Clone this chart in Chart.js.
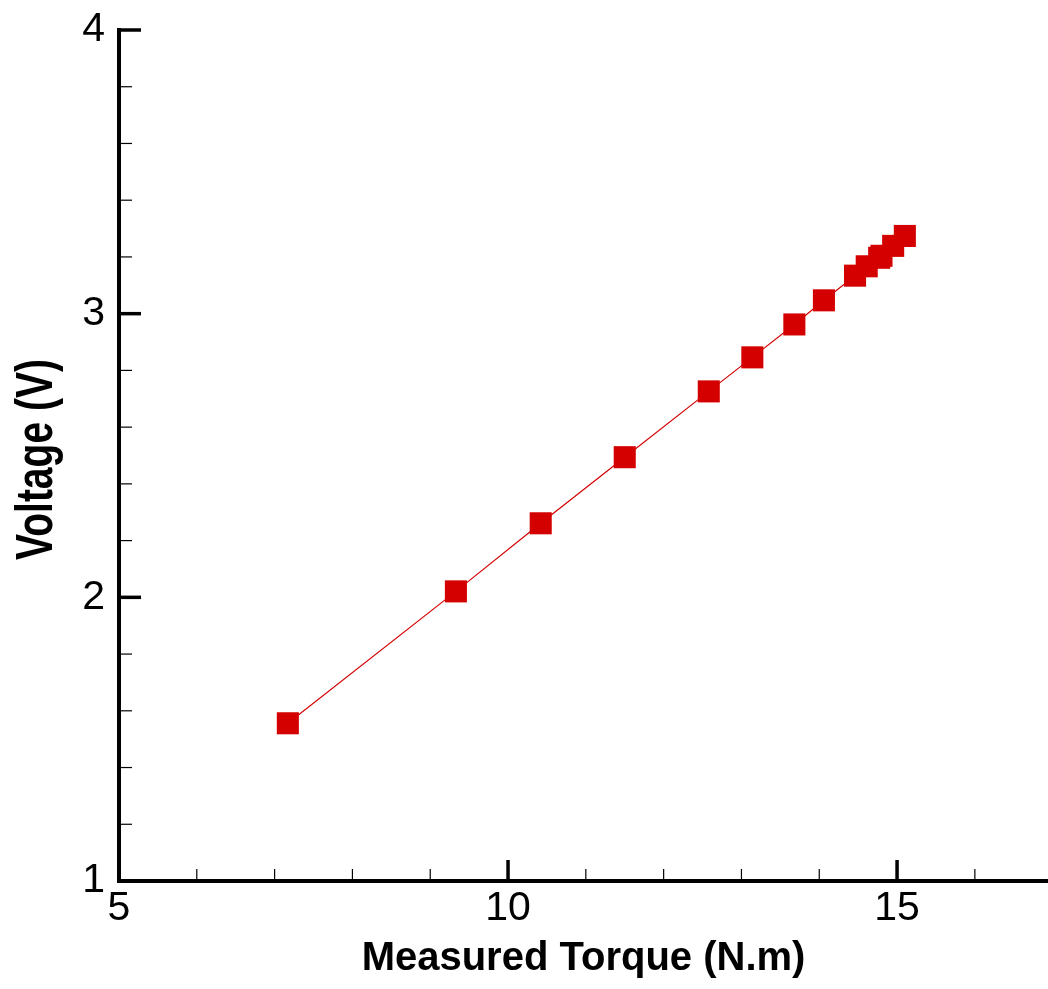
<!DOCTYPE html>
<html>
<head>
<meta charset="utf-8">
<script src="https://cdn.jsdelivr.net/npm/chart.js@4.4.0/dist/chart.umd.min.js"></script>
<style>
  html, body { margin: 0; padding: 0; background: #ffffff; overflow: hidden; }
  #wrap { position: relative; width: 1048px; height: 989px; overflow: hidden; }
  canvas { display: block; }
</style>
</head>
<body>
<div id="wrap"><canvas id="c" width="1048" height="989"></canvas></div>
<script>
// ---- Data ----
const torque  = [7.17, 9.33, 10.42, 11.50, 12.58, 13.14, 13.68, 14.06, 14.46, 14.61, 14.77, 14.80, 14.95, 15.10];
const voltage = [1.556, 2.021, 2.261, 2.494, 2.726, 2.846, 2.962, 3.047, 3.134, 3.167, 3.197, 3.204, 3.239, 3.274];

const xMajorTicks = [5, 10, 15];
const xMinorTicks = [6, 7, 8, 9, 11, 12, 13, 14, 16];
const yMajorTicks = [1, 2, 3, 4];
const yMinorTicks = [1.2, 1.4, 1.6, 1.8, 2.2, 2.4, 2.6, 2.8, 3.2, 3.4, 3.6, 3.8];

const xTitle = 'Measured Torque (N.m)';
const yTitle = 'Voltage (V)';

const FONT = "'Liberation Sans', Arial, Helvetica, sans-serif";
const RED = '#d40000';

const points = torque.map((t, i) => ({ x: t, y: voltage[i] }));

// Inward tick marks and stretched y title
const axisDecor = {
  id: 'axisDecor',
  afterDraw(chart) {
    const ctx = chart.ctx;
    const xs = chart.scales.x, ys = chart.scales.y;
    const area = chart.chartArea;
    ctx.save();
    ctx.strokeStyle = '#000';
    const drawY = (vals, len, lw) => {
      ctx.lineWidth = lw;
      vals.forEach(v => {
        const p = ys.getPixelForValue(v);
        ctx.beginPath();
        ctx.moveTo(area.left, p);
        ctx.lineTo(area.left + len, p);
        ctx.stroke();
      });
    };
    const drawX = (vals, len, lw) => {
      ctx.lineWidth = lw;
      vals.forEach(v => {
        const p = xs.getPixelForValue(v);
        ctx.beginPath();
        ctx.moveTo(p, area.bottom);
        ctx.lineTo(p, area.bottom - len);
        ctx.stroke();
      });
    };
    drawY(yMajorTicks, 22, 3.5);
    drawY(yMinorTicks, 13, 1.2);
    drawX(xMajorTicks, 21, 3.5);
    drawX(xMinorTicks, 12, 1.2);

    // y-axis title (stretched across the axis, as in the reference)
    ctx.fillStyle = '#000';
    ctx.font = "bold 39px " + FONT;
    ctx.textAlign = 'center';
    ctx.textBaseline = 'alphabetic';
    ctx.translate(52, (area.top + area.bottom) / 2 + 4);
    ctx.rotate(-Math.PI / 2);
    ctx.scale(1, 1.32);
    ctx.fillText(yTitle, 0, 0);
    ctx.restore();
  }
};

new Chart(document.getElementById('c'), {
  type: 'scatter',
  data: {
    datasets: [{
      data: points,
      showLine: true,
      borderColor: RED,
      borderWidth: 1.2,
      backgroundColor: RED,
      pointStyle: 'rect',
      pointRadius: 15.6,
      pointHoverRadius: 15.6,
      pointBorderWidth: 0,
      pointBackgroundColor: RED,
      tension: 0,
      clip: false
    }]
  },
  options: {
    responsive: false,
    animation: false,
    events: [],
    layout: { autoPadding: false, padding: { top: 30, right: 0, bottom: 0, left: 0 } },
    plugins: {
      legend: { display: false },
      tooltip: { enabled: false },
      title: { display: false }
    },
    scales: {
      x: {
        type: 'linear',
        min: 5,
        max: 16.94,
        grid: { display: false, drawTicks: false },
        border: { display: true, color: '#000', width: 4 },
        afterBuildTicks: s => { s.ticks = xMajorTicks.map(v => ({ value: v })); },
        afterFit: s => { s.height = 108; s.paddingLeft = 0; s.paddingRight = 0; s.paddingTop = 0; s.paddingBottom = 0; },
        ticks: {
          autoSkip: false,
          maxRotation: 0,
          padding: 3,
          color: '#000',
          font: { family: FONT, size: 41 },
          callback: v => String(v)
        },
        title: {
          display: true,
          text: xTitle,
          color: '#000',
          font: { family: FONT, size: 40, weight: 'bold' },
          padding: { top: 0, bottom: 6 }
        }
      },
      y: {
        type: 'linear',
        min: 1,
        max: 4,
        grid: { display: false, drawTicks: false },
        border: { display: true, color: '#000', width: 4 },
        afterBuildTicks: s => { s.ticks = yMajorTicks.map(v => ({ value: v })); },
        afterFit: s => { s.width = 119; s.paddingLeft = 0; s.paddingRight = 0; s.paddingTop = 0; s.paddingBottom = 0; },
        ticks: {
          autoSkip: false,
          padding: 14,
          color: '#000',
          font: { family: FONT, size: 41 },
          callback: v => String(v)
        },
        title: { display: false }
      }
    }
  },
  plugins: [axisDecor]
});
</script>
</body>
</html>
